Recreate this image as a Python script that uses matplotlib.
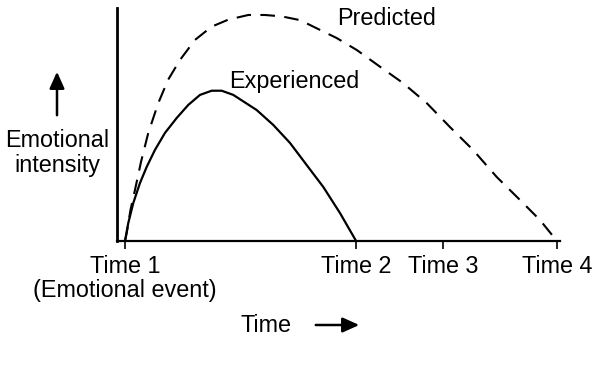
import matplotlib
matplotlib.use("Agg")
import matplotlib.pyplot as plt

plt.rcParams['font.family'] = ['Liberation Sans', 'DejaVu Sans']

# Time positions (Time 1 = 0, Time 4 = 10)
tick_pos = [0.0, 5.35, 7.36, 10.0]
tick_labels = ["Time 1\n(Emotional event)", "Time 2", "Time 3", "Time 4"]

# Experienced emotional intensity
exp_x = [0.0, 0.076, 0.192, 0.347, 0.502, 0.694, 0.926, 1.197, 1.465, 1.736,
         2.007, 2.238, 2.507, 3.049, 3.433, 3.819, 4.206, 4.590, 4.977, 5.35]
exp_y = [0.0, 7.7, 16.3, 24.9, 31.8, 39.1, 46.4, 52.8, 58.4, 62.7,
         64.5, 64.5, 62.7, 56.2, 49.8, 42.1, 32.6, 23.2, 12.0, 0.0]

# Predicted emotional intensity
pred_x = [0.0, 0.039, 0.127, 0.231, 0.370, 0.539, 0.771, 0.995, 1.273, 1.620,
          2.007, 2.391, 2.854, 3.241, 3.627, 4.051, 4.514, 4.901, 5.363, 5.903,
          6.435, 6.984, 7.523, 8.056, 8.604, 9.144, 9.606, 10.0]
pred_y = [0.0, 3.4, 13.3, 21.9, 33.9, 46.4, 59.2, 69.1, 77.7, 86.3,
          92.0, 95.0, 97.0, 97.0, 96.4, 94.8, 90.6, 87.1, 82.0, 74.8,
          67.8, 59.2, 48.9, 39.1, 27.5, 17.6, 9.0, 0.0]

W, H = 596, 368
fig = plt.figure(figsize=(W / 100, H / 100), dpi=100)
ax = fig.add_axes([117 / W, (H - 241) / H, (560 - 117) / W, 233 / H])
ax.set_xlim(-0.185, 10.07)
ax.set_ylim(0, 100)

ax.plot(exp_x, exp_y, color='black', lw=1.6, solid_joinstyle='round',
        solid_capstyle='round', clip_on=False)
ax.plot(pred_x, pred_y, color='black', lw=1.5, linestyle=(0, (7, 4.5)),
        dash_joinstyle='round', clip_on=False)

for s in ['top', 'right']:
    ax.spines[s].set_visible(False)
ax.spines['left'].set_linewidth(2.0)
ax.spines['bottom'].set_linewidth(1.6)

ax.set_yticks([])
ax.set_xticks(tick_pos)
ax.set_xticklabels(tick_labels, fontsize=16.8, linespacing=1.05)
ax.tick_params(axis='x', direction='out', length=6, width=1.2, pad=4, colors='black')

ax.text(4.9, 95.5, "Predicted", fontsize=16.8, ha='left', va='center')
ax.text(2.42, 68.5, "Experienced", fontsize=16.8, ha='left', va='center')

# y-axis label and arrow
fig.text(57 / W, 1 - 153 / H, "Emotional\nintensity", fontsize=16.8, ha='center',
         va='center', linespacing=1.1)
fig.add_artist(matplotlib.patches.FancyArrowPatch(
    (57 / W, 1 - 118 / H), (57 / W, 1 - 69 / H), transform=fig.transFigure,
    arrowstyle='-|>,head_length=10,head_width=4.5', color='black', lw=1.8,
    mutation_scale=1))

# x-axis label and arrow
fig.text(266 / W, 1 - 325 / H, "Time", fontsize=16.8, ha='center', va='center')
fig.add_artist(matplotlib.patches.FancyArrowPatch(
    (313 / W, 1 - 325 / H), (362 / W, 1 - 325 / H), transform=fig.transFigure,
    arrowstyle='-|>,head_length=10,head_width=4.5', color='black', lw=1.8,
    mutation_scale=1))

fig.savefig("out.png", dpi=100)
